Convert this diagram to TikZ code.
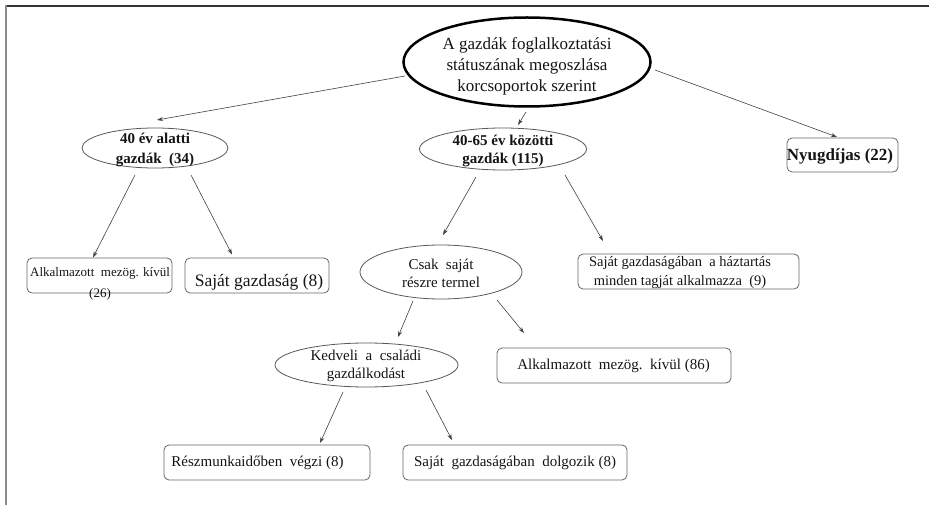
\documentclass[tikz,border=0pt]{standalone}
\usepackage{fontspec}
\setmainfont{Liberation Serif}
\usetikzlibrary{shapes.geometric,arrows.meta}
\begin{document}
\begin{tikzpicture}[x=1pt,y=-1pt,
  ell/.style={draw=black!65, line width=0.8pt, ellipse, inner sep=0pt},
  rbox/.style={draw=black!60, line width=0.8pt, rounded corners=5pt, inner sep=0pt},
  txt/.style={align=center, text=black!92, inner sep=0pt},
  arr/.style={draw=black!75, line width=0.6pt, -{Stealth[length=6pt,width=4pt]}}
]
\useasboundingbox (0,0) rectangle (929,505);
% frame
\draw[line width=2pt, black!80] (5,6) -- (929,6);
\draw[line width=2pt, black!45] (6,5) -- (6,505);

% shapes
\node[ell, draw=black, line width=2.5pt, minimum width=247pt, minimum height=89pt] (main) at (527,62) {};
\node[ell, minimum width=146pt, minimum height=40pt] (n40) at (155,148) {};
\node[ell, minimum width=167pt, minimum height=42pt] (n4065) at (503,149) {};
\node[rbox, minimum width=111pt, minimum height=34pt] (nyug) at (842.5,155) {};
\node[rbox, minimum width=145pt, minimum height=35pt] (a26) at (99.5,275.5) {};
\node[rbox, minimum width=144pt, minimum height=35pt] (sg8) at (257,275.5) {};
\node[ell, minimum width=162pt, minimum height=54pt] (csak) at (441,272) {};
\node[rbox, minimum width=221pt, minimum height=35pt] (hazt) at (688.5,271.5) {};
\node[ell, minimum width=183pt, minimum height=44pt] (kedv) at (366.5,365) {};
\node[rbox, minimum width=234pt, minimum height=35pt] (alk86) at (614,365.5) {};
\node[rbox, minimum width=206pt, minimum height=35pt] (resz) at (267,462.5) {};
\node[rbox, minimum width=224pt, minimum height=35pt] (sgd8) at (515,462.5) {};

% texts
\node[txt, font=\fontsize{17}{21}\selectfont] (main-t) at (527,66) {A gazdák foglalkoztatási\\státuszának megoszlása\\korcsoportok szerint};
\node[txt, font=\fontsize{15}{20}\bfseries] (n40-t) at (155,150) {40 év alatti\\gazdák\ \ (34)};
\node[txt, font=\fontsize{15}{18.5}\bfseries] (n4065-t) at (503,151) {40-65 év közötti\\gazdák (115)};
\node[txt, font=\fontsize{17}{20}\bfseries] (nyug-t) at (840,156) {Nyugdíjas (22)};
\node[txt, font=\fontsize{13}{21}\selectfont] (a26-t) at (100,284) {Alkalmazott\ \ mezög. kívül\\(26)};
\node[txt, font=\fontsize{17.5}{20}\selectfont] (sg8-t) at (259,282) {Saját gazdaság (8)};
\node[txt, font=\fontsize{15}{18}\selectfont] (csak-t) at (441,273) {Csak\ \ saját\\részre termel};
\node[txt, font=\fontsize{14.5}{18.5}\selectfont] (hazt-t) at (680,272.5) {Saját gazdaságában\ \ a háztartás\\minden tagját alkalmazza\ \ (9)};
\node[txt, font=\fontsize{15}{18}\selectfont] (kedv-t) at (366,366) {Kedveli\ \ a\ \ családi\\gazdálkodást};
\node[txt, font=\fontsize{15}{18}\selectfont] (alk86-t) at (613.5,366) {Alkalmazott\ \ mezög.\ \ kívül (86)};
\node[txt, font=\fontsize{15}{18}\selectfont] (resz-t) at (257.5,463) {Részmunkaidőben\ \ végzi (8)};
\node[txt, font=\fontsize{15}{18}\selectfont] (sgd8-t) at (515,463) {Saját\ \ gazdaságában\ \ dolgozik (8)};

% connectors
\draw[arr] ([shift={(-122,14)}]main.center) -- ([shift={(2,-28)}]n40.center);
\draw[arr] ([shift={(-1,50)}]main.center) -- ([shift={(15,-24)}]n4065.center);
\draw[arr] ([shift={(128,8)}]main.center) -- ([shift={(-5.5,-18)}]nyug.center);
\draw[arr] ([shift={(-20,27)}]n40.center) -- ([shift={(-6.5,-18)}]a26.center);
\draw[arr] ([shift={(36,27)}]n40.center) -- ([shift={(-25,-21)}]sg8.center);
\draw[arr] ([shift={(-27,28)}]n4065.center) -- ([shift={(2,-37)}]csak.center);
\draw[arr] ([shift={(62,26)}]n4065.center) -- ([shift={(-85.5,-30.5)}]hazt.center);
\draw[arr] ([shift={(-28,29)}]csak.center) -- ([shift={(31.5,-28)}]kedv.center);
\draw[arr] ([shift={(56,28)}]csak.center) -- ([shift={(-90,-32.5)}]alk86.center);
\draw[arr] ([shift={(-23.5,27)}]kedv.center) -- ([shift={(53,-19.5)}]resz.center);
\draw[arr] ([shift={(59.5,25)}]kedv.center) -- ([shift={(-63,-22.5)}]sgd8.center);
\end{tikzpicture}
\end{document}
